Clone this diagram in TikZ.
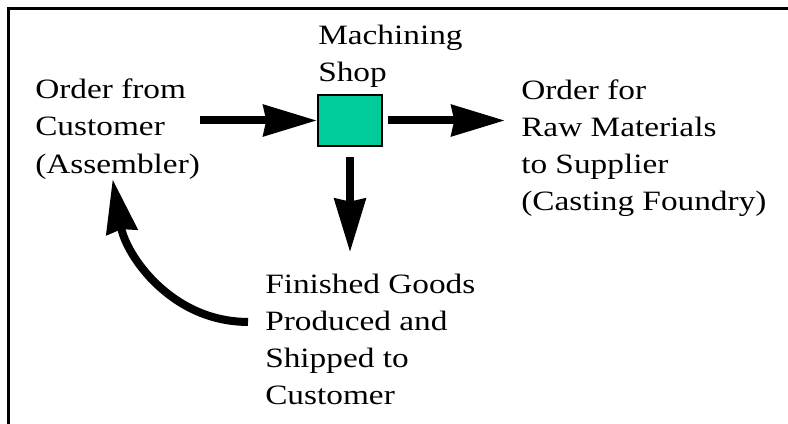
\documentclass[tikz,border=0pt]{standalone}
\usepackage{fontspec}
\newfontfamily\diagfont[FakeStretch=1.19]{Liberation Serif}
\usetikzlibrary{arrows.meta}
\usetikzlibrary{positioning}

\begin{document}
\begin{tikzpicture}[x = 0.75pt, y = -0.75pt]
\tikzstyle{labelStyle} = [inner sep = 0pt, align = left, anchor = base west, font = \diagfont\fontsize{21}{27.75}\selectfont]
\tikzstyle{shopStyle} = [draw, line width = 1.5pt, fill = shopgreen, minimum width = 48pt, minimum height = 38pt, inner sep = 0pt]
\tikzstyle{flowStyle} = [line width = 6pt, -{Stealth[length = 40pt, width = 23pt, inset = 2pt]}]
\definecolor{shopgreen}{RGB}{0,204,153}
\useasboundingbox (0,0) rectangle (788,424);
\draw[line width = 2.25pt] (8.7,424) -- (8.7,8.7) -- (788,8.7);
\node[shopStyle] (shop) at (350,120.5) {};
\node[labelStyle] (machining) at (318,82) {Machining\\Shop};
\node[labelStyle] (customer) at (35,173) {Order from\\Customer\\(Assembler)};
\node[labelStyle] (supplier) at (521,210) {Order for\\Raw Materials\\to Supplier\\(Casting Foundry)};
\node[labelStyle] (goods) at (265,404) {Finished Goods\\Produced and\\Shipped to\\Customer};
\draw[flowStyle] (customer.east |- shop.west) -- (shop.west);
\draw[flowStyle, shorten < = 3.5pt] (shop.east) -- ([xshift = -12pt]supplier.west |- shop.east);
\draw[flowStyle, shorten < = 7.5pt] (shop.south) -- ([yshift = 15.75pt]shop.south |- goods.north);
\draw[flowStyle] ([shift = {(-17,-17)}]goods.west) to[out = 180, in = -80] ([shift = {(-5,0)}]customer.south);
\end{tikzpicture}
\end{document}
